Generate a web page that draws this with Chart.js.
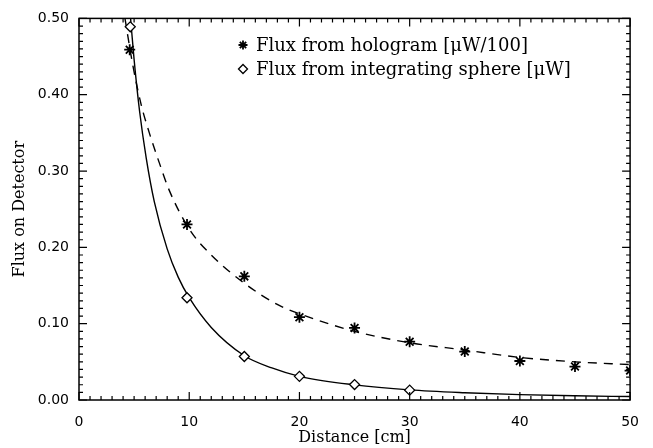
<!DOCTYPE html>
<html>
<head>
<meta charset="utf-8">
<script src="https://cdn.jsdelivr.net/npm/chart.js@4.4.1/dist/chart.umd.min.js"></script>
<style>
html,body{margin:0;padding:0;background:#fff;}
#wrap{width:653px;height:448px;position:relative;}
</style>
</head>
<body>
<div id="wrap"><canvas id="c" width="653" height="448"></canvas></div>
<script>
const distHolo   = [4.6, 9.8, 15, 20, 25, 30, 35, 40, 45, 50];
const fluxHolo   = [0.459, 0.230, 0.162, 0.1085, 0.0944, 0.0764, 0.0635, 0.0511, 0.0438, 0.0386];
const distSphere = [4.65, 9.8, 15, 20, 25, 30];
const fluxSphere = [0.489, 0.134, 0.057, 0.031, 0.0202, 0.0129];
// Fitted curves
const fitHoloX   = [4.17, 4.89, 5.64, 6.38, 7.28, 8.18, 10, 12, 15, 18.08, 20, 25, 30, 35, 40, 45, 50];
const fitHoloY   = [0.5, 0.438, 0.387, 0.350, 0.311, 0.275, 0.224, 0.19, 0.153, 0.1245, 0.113, 0.09, 0.075, 0.0655, 0.0558, 0.05, 0.0464];
const fitSphereX = [4.68, 5.0, 5.5, 6.1, 6.83, 8, 9, 10, 12, 15, 17.5, 20, 25, 30, 35, 40, 45, 50];
const fitSphereY = [0.5, 0.446, 0.378, 0.317, 0.260, 0.198, 0.161, 0.134, 0.095, 0.058, 0.042, 0.031, 0.0198, 0.0132, 0.0095, 0.007, 0.0055, 0.0045];
// Axis ticks
const xTicks = [0, 10, 20, 30, 40, 50];
const yTicks = [0, 0.1, 0.2, 0.3, 0.4, 0.5];
const legendLabels = ['Flux from hologram [\u03BCW/100]', 'Flux from integrating sphere [\u03BCW]'];

const pts = (xs, ys) => xs.map((x, i) => ({x: x, y: ys[i]}));
const SERIF = '"DejaVu Serif", serif';
const SANS = '"DejaVu Sans", sans-serif';

const frame = {
  id: 'frame',
  afterDatasetsDraw(chart) {
    const ctx = chart.ctx, xs = chart.scales.x, ys = chart.scales.y;
    const a = chart.chartArea;
    ctx.save();
    ctx.strokeStyle = '#000';
    ctx.lineWidth = 1.5;
    ctx.strokeRect(a.left, a.top, a.right - a.left, a.bottom - a.top);
    ctx.lineWidth = 1.2;
    ctx.beginPath();
    for (let i = 0; i <= 50; i++) {
      const p = xs.getPixelForValue(i);
      const len = (i % 10 === 0) ? 8 : 4;
      ctx.moveTo(p, a.bottom); ctx.lineTo(p, a.bottom - len);
      ctx.moveTo(p, a.top); ctx.lineTo(p, a.top + len);
    }
    for (let i = 0; i <= 50; i++) {
      const p = ys.getPixelForValue(i / 100);
      const len = (i % 10 === 0) ? 8 : 4;
      ctx.moveTo(a.left, p); ctx.lineTo(a.left + len, p);
      ctx.moveTo(a.right, p); ctx.lineTo(a.right - len, p);
    }
    ctx.stroke();
    // legend
    const styles = ['star', 'rectRot'];
    const radii = [4.5, 4.5];
    const lx = 243, ly = [45, 69];
    for (let k = 0; k < 2; k++) {
      const ds = chart.data.datasets[k];
      ctx.strokeStyle = '#000';
      ctx.fillStyle = '#fff';
      ctx.lineWidth = ds.pointBorderWidth;
      Chart.helpers.drawPoint(ctx, {pointStyle: styles[k], radius: radii[k], rotation: 0, borderWidth: ds.pointBorderWidth}, lx, ly[k]);
      ctx.fillStyle = '#000';
      ctx.font = '18px ' + SERIF;
      ctx.textBaseline = 'middle';
      ctx.textAlign = 'left';
      ctx.fillText(legendLabels[k], 256, ly[k] + 1);
    }
    ctx.restore();
  }
};

new Chart(document.getElementById('c'), {
  type: 'scatter',
  data: {
    datasets: [
      {label: legendLabels[0], data: pts(distHolo, fluxHolo), pointStyle: 'star', pointRadius: 5.5,
       pointBorderWidth: 1.8, borderColor: '#000', backgroundColor: '#fff', showLine: false},
      {label: legendLabels[1], data: pts(distSphere, fluxSphere), pointStyle: 'rectRot', pointRadius: 5,
       pointBorderWidth: 1.3, borderColor: '#000', backgroundColor: '#fff', showLine: false},
      {label: 'fit hologram', data: pts(fitHoloX, fitHoloY), showLine: true, pointRadius: 0,
       borderColor: '#000', borderWidth: 1.4, borderDash: [9, 7], cubicInterpolationMode: 'monotone'},
      {label: 'fit sphere', data: pts(fitSphereX, fitSphereY), showLine: true, pointRadius: 0,
       borderColor: '#000', borderWidth: 1.4, cubicInterpolationMode: 'monotone'}
    ]
  },
  options: {
    responsive: false,
    animation: false,
    events: [],
    layout: {padding: {top: 12, right: 18, left: 0, bottom: 0}},
    plugins: {legend: {display: false}, tooltip: {enabled: false}},
    scales: {
      x: {
        type: 'linear', min: 0, max: 50,
        afterBuildTicks: s => { s.ticks = xTicks.map(v => ({value: v})); },
        afterFit: s => { s.height = 48; },
        grid: {display: false, drawTicks: false},
        border: {display: false},
        ticks: {color: '#000', font: {family: SANS, size: 14}, padding: 14, maxRotation: 0,
                callback: v => String(v)},
        title: {display: true, text: 'Distance [cm]', color: '#000', font: {family: SERIF, size: 16},
                padding: {top: 0, bottom: 1}}
      },
      y: {
        type: 'linear', min: 0, max: 0.5,
        afterBuildTicks: s => { s.ticks = yTicks.map(v => ({value: v})); },
        afterFit: s => { s.width = 79; },
        grid: {display: false, drawTicks: false},
        border: {display: false},
        ticks: {color: '#000', font: {family: SANS, size: 14}, padding: 10,
                callback: v => Number(v).toFixed(2)},
        title: {display: true, text: 'Flux on Detector', color: '#000', font: {family: SERIF, size: 16},
                padding: {top: 10, bottom: 0}}
      }
    }
  },
  plugins: [frame]
});
</script>
</body>
</html>
